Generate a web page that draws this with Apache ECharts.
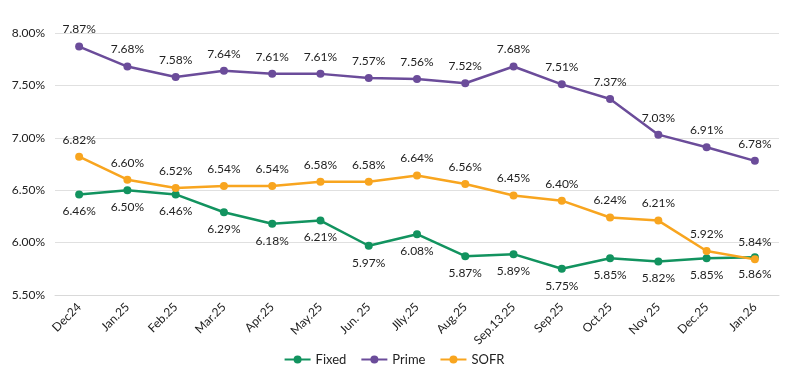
<!DOCTYPE html>
<html><head><meta charset="utf-8">
<script src="https://cdn.jsdelivr.net/npm/echarts@6/dist/echarts.min.js"></script>
<style>html,body{margin:0;padding:0;background:#fff}#c{width:788px;height:389px}</style>
</head><body><div id="c"></div>
<script>
const categories = ['Dec24','Jan.25','Feb.25','Mar.25','Apr.25','May.25','Jun. 25','Jlly.25','Aug.25','Sep.13.25','Sep.25','Oct.25','Nov 25','Dec.25','Jan.26'];
const fixed = [6.46,6.50,6.46,6.29,6.18,6.21,5.97,6.08,5.87,5.89,5.75,5.85,5.82,5.85,5.86];
const prime = [7.87,7.68,7.58,7.64,7.61,7.61,7.57,7.56,7.52,7.68,7.51,7.37,7.03,6.91,6.78];
const sofr = [6.82,6.60,6.52,6.54,6.54,6.58,6.58,6.64,6.56,6.45,6.40,6.24,6.21,5.92,5.84];
const yTicks = {min:5.5,max:8,interval:0.5};

const font = 'Lato, "DejaVu Sans", sans-serif';
function mk(name, data, color, pos){
  return {name, type:'line', data, symbol:'circle', symbolSize:8,
    lineStyle:{width:2.5,color}, itemStyle:{color},
    label:{show:true, position:pos, distance:7, color:'#222', fontSize:12, fontFamily:font,
      formatter:p=>p.value.toFixed(2)+'%'}};
}
const chart = echarts.init(document.getElementById('c'));
chart.setOption({
  animation:false,
  grid:{left:55,right:9,top:33,bottom:94},
  legend:{bottom:18,left:'center',itemWidth:26,itemHeight:10,itemGap:14,
    textStyle:{fontSize:13,fontFamily:font,color:'#222'},
    data:['Fixed','Prime','SOFR']},
  xAxis:{type:'category',data:categories,boundaryGap:true,
    axisLine:{show:true,lineStyle:{color:'#d9d9d9'}},axisTick:{show:false},
    axisLabel:{rotate:45,interval:0,fontSize:12,fontFamily:font,color:'#222',margin:10}},
  yAxis:{type:'value',min:yTicks.min,max:yTicks.max,interval:yTicks.interval,
    axisLine:{show:false},axisTick:{show:false},
    splitLine:{lineStyle:{color:'#e0e0e0',width:1}},
    axisLabel:{fontSize:12,fontFamily:font,color:'#222',margin:10,formatter:v=>v.toFixed(2)+'%'}},
  series:[mk('Fixed',fixed,'#12935f','bottom'),mk('Prime',prime,'#6b4c9a','top'),mk('SOFR',sofr,'#f8a51f','top')]
});
</script></body></html>
